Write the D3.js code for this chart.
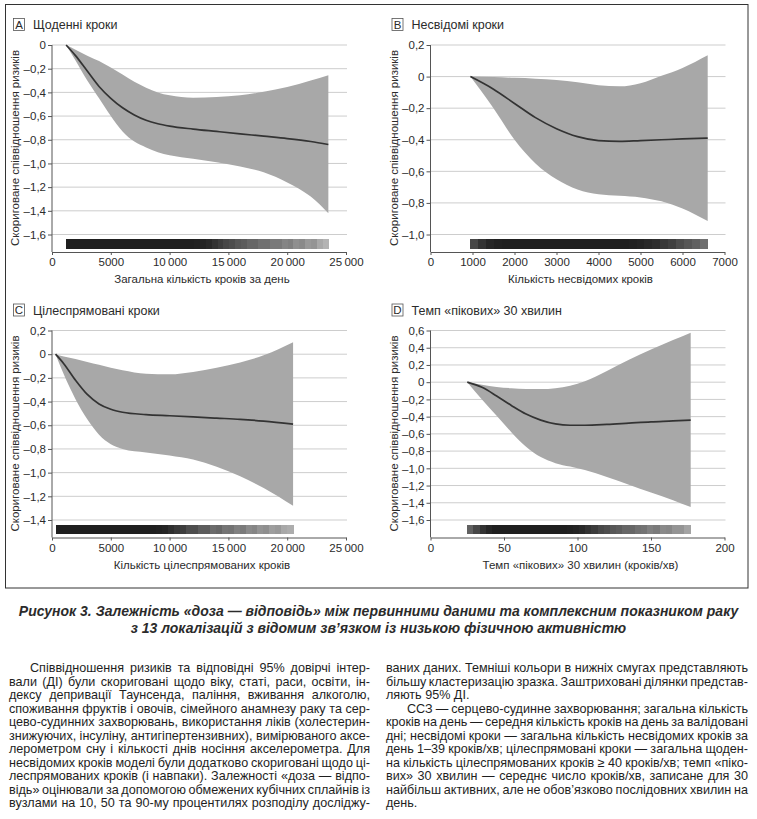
<!DOCTYPE html>
<html>
<head>
<meta charset="utf-8">
<script src="https://cdn.jsdelivr.net/npm/d3@7"></script>
<style>
  body { margin: 0; background: #fff; }
  .chart text { font-family: "Liberation Sans Narrow", "Liberation Sans", Arial, sans-serif; fill: #2b2b2b; }
  .body text { font-family: "Liberation Sans", Arial, sans-serif; fill: #1e1e1e; font-size: 12.6px; }
</style>
</head>
<body>
<div id="chart"></div>
<script>
// ---- Panel A: щоденні кроки
const xA = [1200, 2000, 3000, 4000, 5000, 6000, 7000, 8000, 9000, 10000, 12000, 14000, 16000, 18000, 20000, 22000, 23500];
const estA = [0, -0.09, -0.22, -0.35, -0.45, -0.53, -0.59, -0.635, -0.665, -0.685, -0.71, -0.73, -0.75, -0.77, -0.79, -0.815, -0.84];
const hiA = [0, -0.04, -0.09, -0.135, -0.19, -0.25, -0.31, -0.36, -0.4, -0.425, -0.445, -0.44, -0.425, -0.395, -0.355, -0.3, -0.255];
const loA = [0, -0.13, -0.3, -0.45, -0.6, -0.73, -0.815, -0.865, -0.905, -0.93, -0.96, -0.99, -1.025, -1.075, -1.16, -1.28, -1.42];
const rugA = [0.88, 0.88, 0.88, 0.88, 0.88, 0.88, 0.88, 0.88, 0.88, 0.88, 0.88, 0.88, 0.88, 0.88, 0.88, 0.88, 0.88, 0.88, 0.88, 0.88, 0.88, 0.88, 0.87, 0.86,
  0.84, 0.8, 0.76, 0.72, 0.7, 0.66, 0.64, 0.6, 0.6, 0.56, 0.56, 0.52, 0.52, 0.48, 0.5, 0.44, 0.46, 0.4, 0.42, 0.34, 0.3];

// ---- Panel B: несвідомі кроки
const xB = [950, 1500, 2000, 2500, 3000, 3500, 4000, 4500, 5000, 5500, 6000, 6600];
const estB = [0, -0.08, -0.17, -0.26, -0.33, -0.38, -0.405, -0.41, -0.405, -0.4, -0.395, -0.39];
const hiB = [0, -0.003, -0.008, -0.013, -0.022, -0.036, -0.055, -0.062, -0.042, 0.005, 0.055, 0.135];
const loB = [0, -0.2, -0.4, -0.55, -0.65, -0.715, -0.745, -0.755, -0.765, -0.79, -0.835, -0.915];
const rugB = [0.72, 0.8, 0.85, 0.87, 0.88, 0.88, 0.88, 0.88, 0.88, 0.88, 0.88, 0.88, 0.88, 0.88, 0.88, 0.88, 0.88, 0.88, 0.88, 0.88, 0.87, 0.86,
  0.84, 0.82, 0.78, 0.75, 0.7, 0.66, 0.62, 0.56];

// ---- Panel C: цілеспрямовані кроки
const xC = [300, 1000, 2000, 3000, 4000, 5000, 6000, 8000, 10000, 12000, 14000, 16000, 18000, 20500];
const estC = [0, -0.08, -0.22, -0.34, -0.42, -0.465, -0.49, -0.51, -0.52, -0.53, -0.54, -0.55, -0.565, -0.59];
const hiC = [0, -0.02, -0.04, -0.065, -0.09, -0.115, -0.135, -0.165, -0.17, -0.15, -0.115, -0.07, -0.01, 0.1];
const loC = [0, -0.17, -0.38, -0.55, -0.68, -0.76, -0.8, -0.83, -0.855, -0.89, -0.95, -1.03, -1.13, -1.28];
const rugC = [0.88, 0.88, 0.88, 0.88, 0.88, 0.88, 0.88, 0.88, 0.88, 0.88, 0.88, 0.88, 0.88, 0.88, 0.88, 0.88, 0.88, 0.87, 0.86,
  0.82, 0.78, 0.76, 0.7, 0.7, 0.64, 0.64, 0.58, 0.6, 0.54, 0.55, 0.5, 0.52, 0.46, 0.48, 0.42, 0.44, 0.38, 0.4, 0.34, 0.32];

// ---- Panel D: темп «пікових» 30 хвилин
const xD = [25, 35, 45, 55, 65, 75, 85, 95, 105, 120, 135, 150, 165, 177];
const estD = [0, -0.06, -0.16, -0.27, -0.37, -0.44, -0.485, -0.5, -0.5, -0.49, -0.475, -0.46, -0.45, -0.44];
const hiD = [0, -0.03, -0.055, -0.07, -0.08, -0.08, -0.07, -0.04, 0.01, 0.13, 0.26, 0.38, 0.49, 0.575];
const loD = [0, -0.2, -0.39, -0.58, -0.75, -0.87, -0.94, -0.98, -1.02, -1.1, -1.19, -1.28, -1.37, -1.45];
const rugD = [0.62, 0.72, 0.8, 0.85, 0.88, 0.88, 0.88, 0.88, 0.88, 0.88, 0.88, 0.88, 0.88, 0.88, 0.88, 0.88, 0.87, 0.86,
  0.84, 0.8, 0.77, 0.72, 0.7, 0.66, 0.64, 0.6, 0.6, 0.56, 0.55, 0.5, 0.52, 0.46, 0.47, 0.42, 0.42, 0.36];

// ticks
const xTicksSteps = [0, 5000, 10000, 15000, 20000, 25000];
const xTicksB = [0, 1000, 2000, 3000, 4000, 5000, 6000, 7000];
const xTicksD = [0, 50, 100, 150, 200];
const yTicksA = [0, -0.2, -0.4, -0.6, -0.8, -1.0, -1.2, -1.4, -1.6];
const yTicksB = [0.2, 0, -0.2, -0.4, -0.6, -0.8, -1.0];
const yTicksC = [0.2, 0, -0.2, -0.4, -0.6, -0.8, -1.0, -1.2, -1.4];
const yTicksD = [0.6, 0.4, 0.2, 0, -0.2, -0.4, -0.6, -0.8, -1.0, -1.2, -1.4, -1.6];

const letters = ['A', 'B', 'C', 'D'];
const titles = ['Щоденні кроки', 'Несвідомі кроки', 'Цілеспрямовані кроки', 'Темп «пікових» 30 хвилин'];
const xLabels = ['Загальна кількість кроків за день', 'Кількість несвідомих кроків',
  'Кількість цілеспрямованих кроків', 'Темп «пікових» 30 хвилин (кроків/хв)'];
const yLabel = 'Скориговане співвідношення ризиків';

const caption = ['Рисунок 3. Залежність «доза — відповідь» між первинними даними та комплексним показником раку',
  'з 13 локалізацій з відомим зв’язком із низькою фізичною активністю'];

const leftLines = [
  'Співвідношення ризиків та відповідні 95% довірчі інтер-',
  'вали (ДІ) були скориговані щодо віку, статі, раси, освіти, ін-',
  'дексу депривації Таунсенда, паління, вживання алкоголю,',
  'споживання фруктів і овочів, сімейного анамнезу раку та сер-',
  'цево-судинних захворювань, використання ліків (холестерин-',
  'знижуючих, інсуліну, антигіпертензивних), вимірюваного аксе-',
  'лерометром сну і кількості днів носіння акселерометра. Для',
  'несвідомих кроків моделі були додатково скориговані щодо ці-',
  'леспрямованих кроків (і навпаки). Залежності «доза — відпо-',
  'відь» оцінювали за допомогою обмежених кубічних сплайнів із',
  'вузлами на 10, 50 та 90-му процентилях розподілу досліджу-'
];
const rightLines = [
  'ваних даних. Темніші кольори в нижніх смугах представляють',
  'більшу кластеризацію зразка. Заштриховані ділянки представ-',
  'ляють 95% ДІ.',
  'ССЗ — серцево-судинне захворювання; загальна кількість',
  'кроків на день — середня кількість кроків на день за валідовані',
  'дні; несвідомі кроки — загальна кількість несвідомих кроків за',
  'день 1–39 кроків/хв; цілеспрямовані кроки — загальна щоден-',
  'на кількість цілеспрямованих кроків ≥ 40 кроків/хв; темп «піко-',
  'вих» 30 хвилин — середнє число кроків/хв, записане для 30',
  'найбільш активних, але не обов’язково послідовних хвилин на',
  'день.'
];

const W = 757, H = 819;
const svg = d3.select('#chart').append('svg')
  .attr('width', W).attr('height', H);

// frame
svg.append('rect')
  .attr('x', 5.5).attr('y', 4.5).attr('width', 742.5).attr('height', 583.5)
  .attr('fill', 'none').attr('stroke', '#333').attr('stroke-width', 1);

const panels = [
  { xs: xA, est: estA, hi: hiA, lo: loA, rug: rugA, xDomain: [0, 25000], xTicks: xTicksSteps, yTicks: yTicksA, left: 0, top: 0 },
  { xs: xB, est: estB, hi: hiB, lo: loB, rug: rugB, xDomain: [0, 7000], xTicks: xTicksB, yTicks: yTicksB, left: 378.5, top: 0 },
  { xs: xC, est: estC, hi: hiC, lo: loC, rug: rugC, xDomain: [0, 25000], xTicks: xTicksSteps, yTicks: yTicksC, left: 0, top: 285.5 },
  { xs: xD, est: estD, hi: hiD, lo: loD, rug: rugD, xDomain: [0, 200], xTicks: xTicksD, yTicks: yTicksD, left: 378.5, top: 285.5 }
];

const fmtX = d => d >= 10000 ? d3.format(',')(d).replace(',', '\u2009') : String(d);
const fmtY = d => Math.abs(d) < 1e-9 ? '0' : (d < 0 ? '\u2013' : '') + Math.abs(d).toFixed(1).replace('.', ',');

const chart = svg.append('g').attr('class', 'chart');

panels.forEach((p, i) => {
  const L = p.left, T = p.top;
  const x0 = L + 52, x1 = L + 346;
  const yTopPx = T + 45, yAxisPx = T + 252;
  const x = d3.scaleLinear().domain(p.xDomain).range([x0, x1]);
  const y = d3.scaleLinear()
    .domain([p.yTicks[p.yTicks.length - 1], p.yTicks[0]])
    .range([T + 234.5, yTopPx]);
  const g = chart.append('g');

  // grid
  g.append('g').selectAll('line').data(p.yTicks).join('line')
    .attr('x1', x0).attr('x2', x1 + 1)
    .attr('y1', d => y(d)).attr('y2', d => y(d))
    .attr('stroke', '#cdcdcd').attr('stroke-width', 1);

  const rows = p.xs.map((v, k) => ({ x: v, est: p.est[k], hi: p.hi[k], lo: p.lo[k] }));

  // 95% ДІ
  g.append('path').datum(rows)
    .attr('fill', '#a8a8a8')
    .attr('d', d3.area().curve(d3.curveMonotoneX)
      .x(d => x(d.x)).y0(d => y(d.lo)).y1(d => y(d.hi)));

  // оцінка
  g.append('path').datum(rows)
    .attr('fill', 'none').attr('stroke', '#333').attr('stroke-width', 1.7)
    .attr('d', d3.line().curve(d3.curveMonotoneX).x(d => x(d.x)).y(d => y(d.est)));

  // нижня смуга щільності
  const r0 = x(p.xs[0]), r1 = x(p.xs[p.xs.length - 1]);
  const bw = (r1 - r0) / p.rug.length;
  g.append('g').attr('shape-rendering', 'crispEdges')
    .selectAll('rect').data(p.rug).join('rect')
    .attr('x', (d, k) => r0 + k * bw)
    .attr('width', bw + 0.6)
    .attr('y', T + 239).attr('height', 9.5)
    .attr('fill', d => { const v = Math.round(255 * (1 - d)); return `rgb(${v},${v},${v})`; });

  // axes
  const ya = g.append('g').attr('transform', `translate(${x0},0)`)
    .call(d3.axisLeft(y).tickValues(p.yTicks).tickFormat(fmtY).tickSize(4).tickPadding(2));
  ya.select('.domain').remove();
  ya.selectAll('line').attr('stroke', '#555');
  ya.selectAll('text').style('font-size', '11.5px').attr('fill', '#2b2b2b');
  g.append('line').attr('x1', x0).attr('x2', x0).attr('y1', yTopPx).attr('y2', yAxisPx)
    .attr('stroke', '#555');

  const xa = g.append('g').attr('transform', `translate(0,${yAxisPx})`)
    .call(d3.axisBottom(x).tickValues(p.xTicks).tickFormat(fmtX).tickSize(3).tickSizeOuter(0).tickPadding(3));
  xa.select('.domain').attr('stroke', '#555');
  xa.selectAll('line').attr('stroke', '#555');
  xa.selectAll('text').style('font-size', '11.5px').attr('fill', '#2b2b2b');

  // labels
  g.append('text')
    .attr('transform', `translate(${L + 19},${T + 148}) rotate(-90)`)
    .attr('text-anchor', 'middle').style('font-size', '11.5px')
    .text(yLabel);
  g.append('text')
    .attr('x', (x0 + x1) / 2 + 3).attr('y', T + 283)
    .attr('text-anchor', 'middle').style('font-size', '11.5px')
    .text(xLabels[i]);

  // title
  g.append('rect')
    .attr('x', L + 13.5).attr('y', T + 18.5).attr('width', 11).attr('height', 12)
    .attr('fill', 'none').attr('stroke', '#555').attr('stroke-width', 0.8);
  g.append('text')
    .attr('x', L + 19).attr('y', T + 28.5).attr('text-anchor', 'middle')
    .style('font-size', '11.5px').text(letters[i]);
  g.append('text')
    .attr('x', L + 33).attr('y', T + 29)
    .style('font-size', '12.5px').text(titles[i]);
});

// caption
svg.append('g').attr('class', 'chart').selectAll('text').data(caption).join('text')
  .attr('x', W / 2).attr('y', (d, k) => 616 + k * 17)
  .attr('text-anchor', 'middle')
  .style('font-size', '14px').style('font-weight', 'bold').style('font-style', 'italic')
  .attr('fill', '#1e1e1e')
  .text(d => d);

// body text, justified columns
const body = svg.append('g').attr('class', 'body');
function column(lines, xl, xr, indents, lastLines) {
  lines.forEach((s, k) => {
    const ind = indents.includes(k) ? 21 : 0;
    const t = body.append('text').attr('x', xl + ind).attr('y', 672 + k * 13.5).text(s);
    if (lastLines.includes(k)) return;
    const len = t.node().getComputedTextLength();
    const spaces = (s.match(/ /g) || []).length;
    if (spaces) t.style('word-spacing', ((xr - xl - ind - len) / spaces) + 'px');
  });
}
column(leftLines, 9, 370, [0], []);
column(rightLines, 386, 748, [3], [2, 10]);
</script>
</body>
</html>
